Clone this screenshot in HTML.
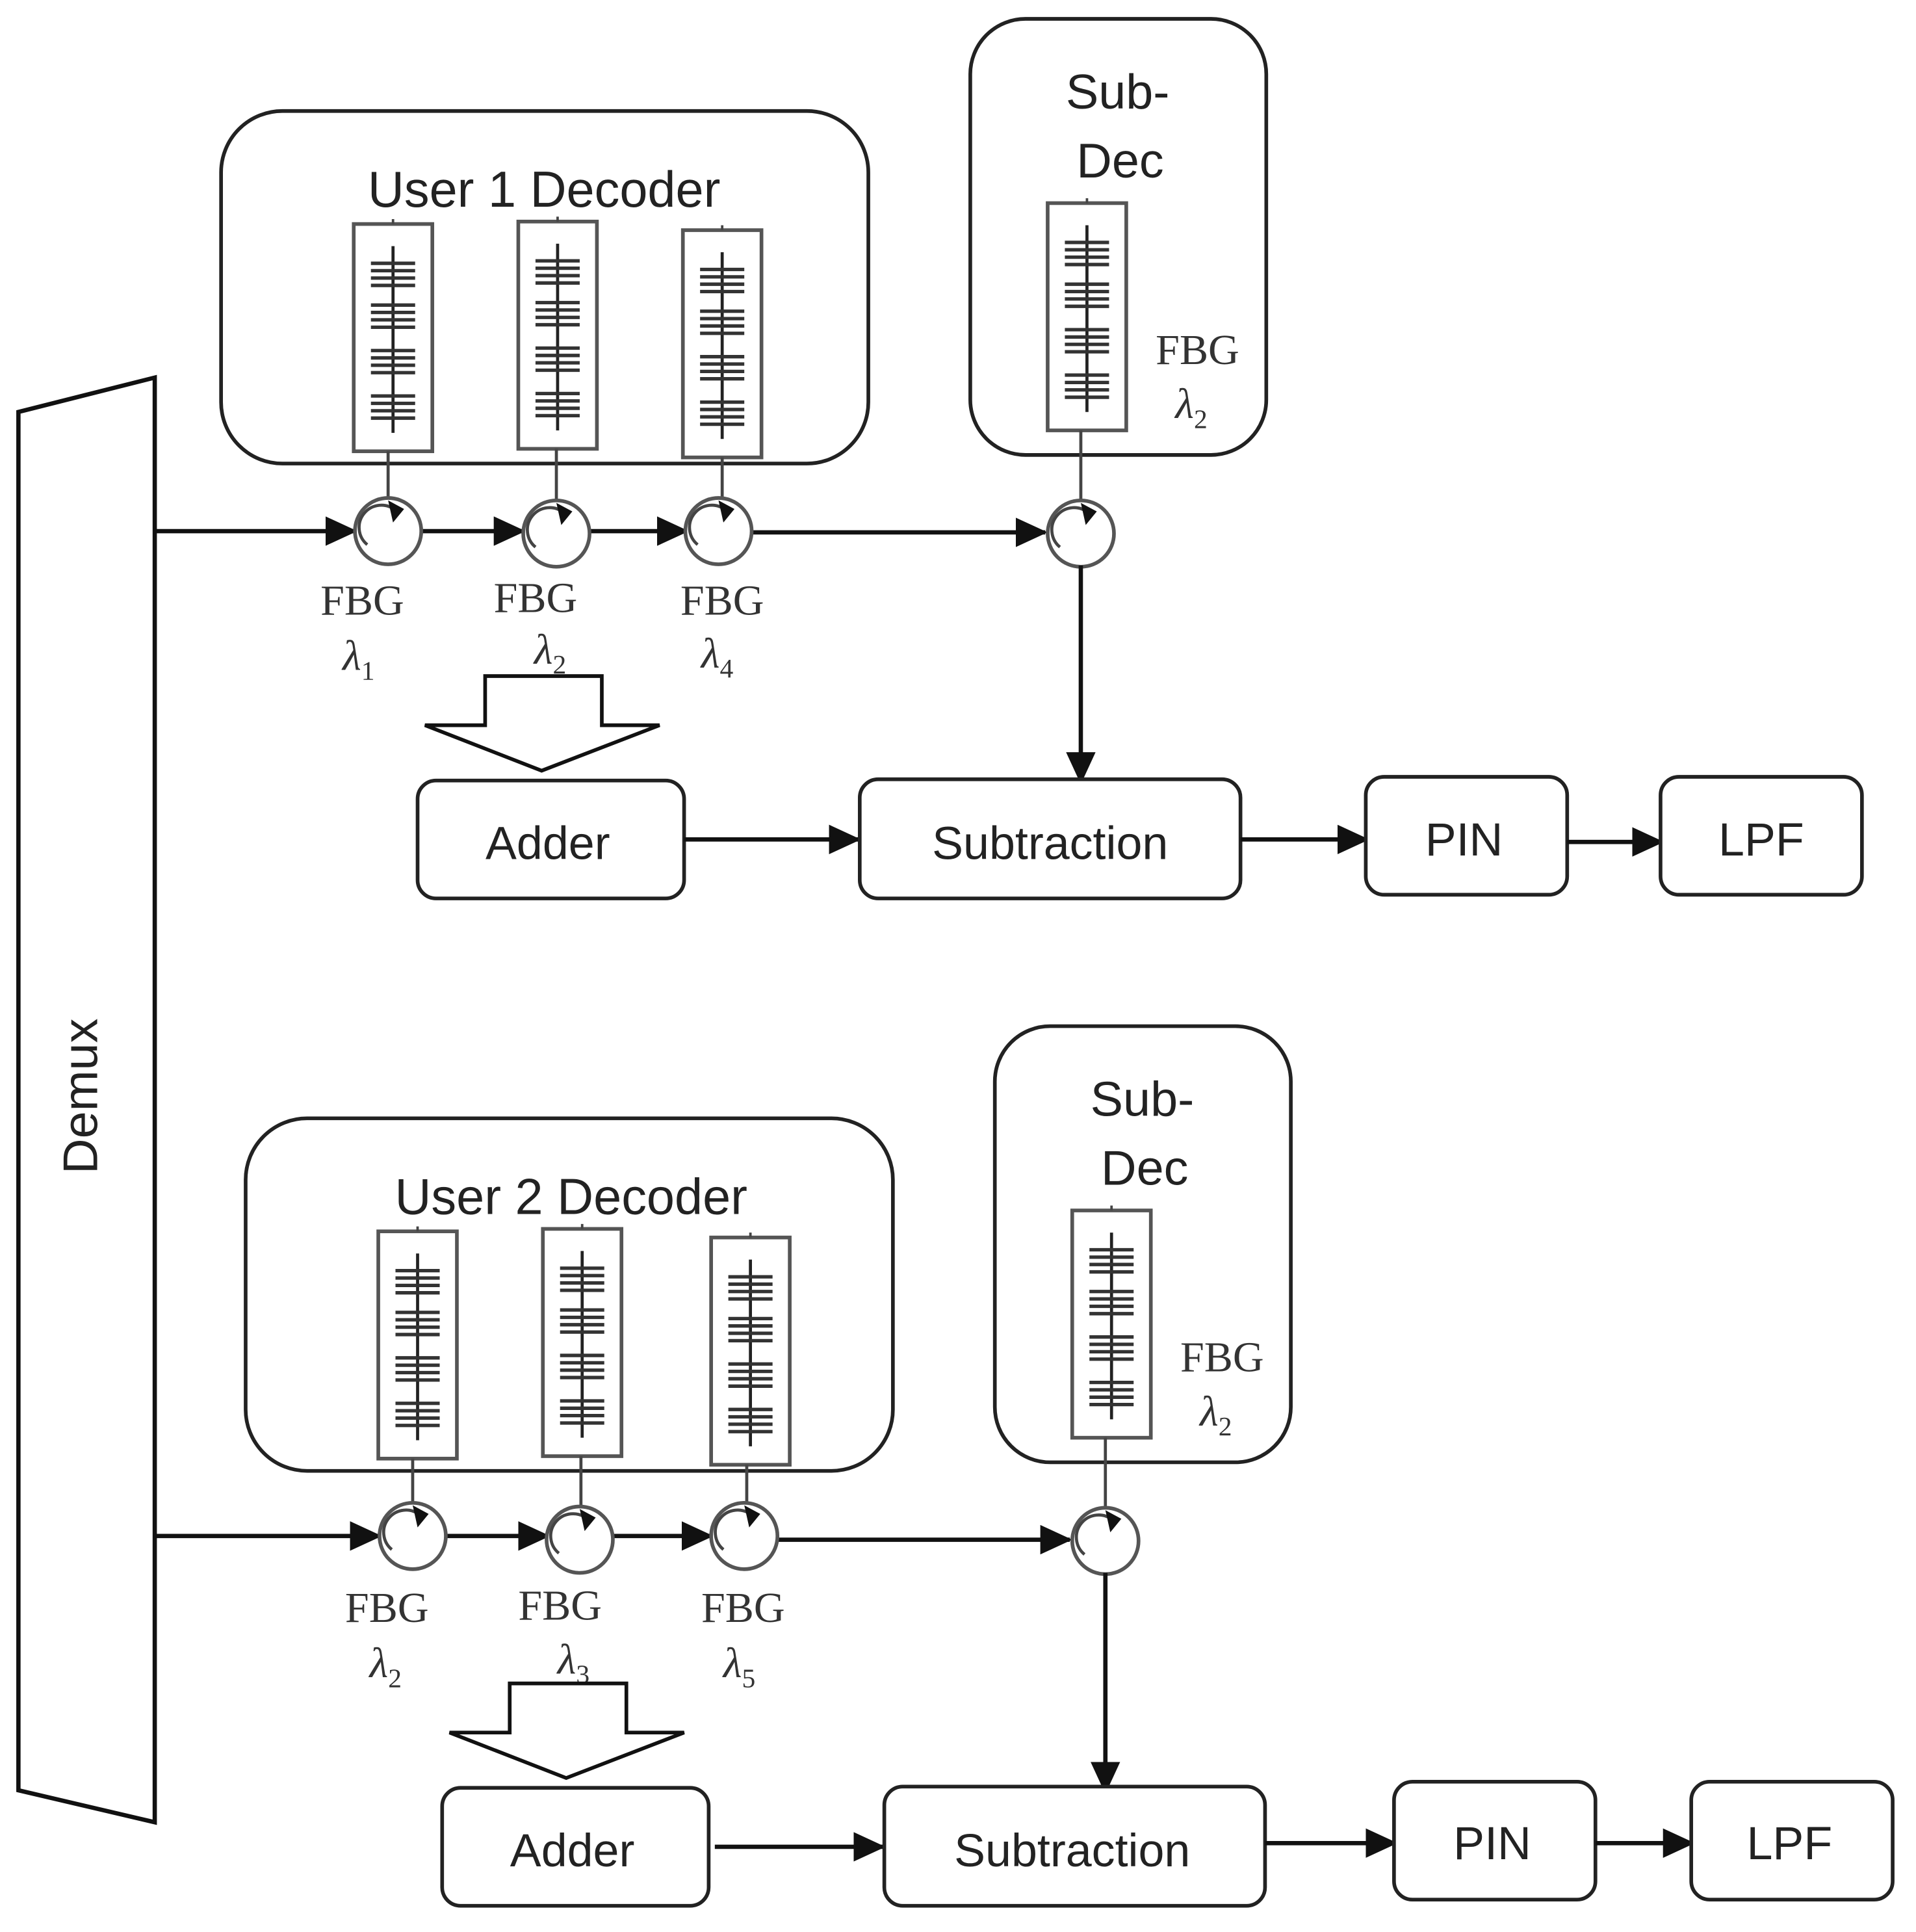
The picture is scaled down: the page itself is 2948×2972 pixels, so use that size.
<!DOCTYPE html>
<html><head><meta charset="utf-8"><style>
html,body{margin:0;padding:0;background:#fff;}
svg{display:block;}
.s{font-family:"Liberation Sans",sans-serif;fill:#222;}
.r{font-family:"Liberation Serif",serif;fill:#333;}
.l{font-style:italic;}
</style></head><body>
<svg width="2948" height="2972" viewBox="0 0 1560 1572" xmlns="http://www.w3.org/2000/svg">
<defs>
<marker id="ab" markerWidth="26" markerHeight="24" refX="24" refY="12" orient="auto" markerUnits="userSpaceOnUse" viewBox="0 0 26 24">
<path d="M0,0 L26,12 L0,24 z" fill="#111"/></marker>
<g id="grat">
<rect x="0" y="0" width="64" height="185" fill="#fff" stroke="#555" stroke-width="3"/>
<line x1="32" y1="-4" x2="32" y2="0" stroke="#444" stroke-width="2"/>
<line x1="32" y1="18" x2="32" y2="170" stroke="#222" stroke-width="2.5"/>
<g stroke="#333" stroke-width="2.8">
<line x1="14" y1="32" x2="50" y2="32"/><line x1="14" y1="38" x2="50" y2="38"/><line x1="14" y1="44" x2="50" y2="44"/><line x1="14" y1="50" x2="50" y2="50"/>
<line x1="14" y1="66" x2="50" y2="66"/><line x1="14" y1="72" x2="50" y2="72"/><line x1="14" y1="78" x2="50" y2="78"/><line x1="14" y1="84" x2="50" y2="84"/>
<line x1="14" y1="103" x2="50" y2="103"/><line x1="14" y1="109" x2="50" y2="109"/><line x1="14" y1="115" x2="50" y2="115"/><line x1="14" y1="121" x2="50" y2="121"/>
<line x1="14" y1="140" x2="50" y2="140"/><line x1="14" y1="146" x2="50" y2="146"/><line x1="14" y1="152" x2="50" y2="152"/><line x1="14" y1="158" x2="50" y2="158"/>
</g></g>
<g id="circ">
<circle cx="0" cy="0" r="27" fill="#fff" stroke="#555" stroke-width="3"/>
<path d="M-17,11 A18,18 0 0 1 6,-17" fill="none" stroke="#444" stroke-width="2.5"/>
<path d="M0,-25 L13,-18 L4,-7 z" fill="#111"/>
</g>
</defs>

<polygon points="15,335 126,307 126,1483 15,1457" fill="#fff" stroke="#111" stroke-width="3.5"/>
<text class="s" x="0" y="0" font-size="40" text-anchor="middle" transform="translate(79,892) rotate(-90)">Demux</text>

<g>
<rect x="180" y="90" width="527" height="287" rx="50" fill="#fff" stroke="#222" stroke-width="3"/>
<text class="s" x="443" y="168" font-size="41" text-anchor="middle">User 1 Decoder</text>
<use href="#grat" x="288" y="182"/>
<use href="#grat" x="422" y="180"/>
<use href="#grat" x="556" y="187"/>
<line x1="316" y1="367" x2="316" y2="406" stroke="#444" stroke-width="2.5"/>
<line x1="453" y1="365" x2="453" y2="408" stroke="#444" stroke-width="2.5"/>
<line x1="588" y1="372" x2="588" y2="406" stroke="#444" stroke-width="2.5"/>
<g stroke="#111" stroke-width="3.5">
<line x1="126" y1="432" x2="289" y2="432" marker-end="url(#ab)"/>
<line x1="343" y1="432" x2="426" y2="432" marker-end="url(#ab)"/>
<line x1="480" y1="432" x2="559" y2="432" marker-end="url(#ab)"/>
<line x1="612" y1="433" x2="851" y2="433" marker-end="url(#ab)"/>
</g>
<use href="#circ" x="316" y="432"/>
<use href="#circ" x="453" y="434"/>
<use href="#circ" x="585" y="432"/>
<rect x="790" y="15" width="241" height="355" rx="45" fill="#fff" stroke="#222" stroke-width="3"/>
<text class="s" x="910" y="88" font-size="40" text-anchor="middle">Sub-</text>
<text class="s" x="912" y="144" font-size="40" text-anchor="middle">Dec</text>
<use href="#grat" x="853" y="165"/>
<line x1="880" y1="350" x2="880" y2="408" stroke="#444" stroke-width="2.5"/>
<use href="#circ" x="880" y="434"/>
<text class="r" x="975" y="296" font-size="35" text-anchor="middle">FBG</text>
<text class="r" x="970" y="340" font-size="35" text-anchor="middle"><tspan class="l">λ</tspan><tspan font-size="22" dy="8">2</tspan></text>
<line x1="880" y1="460" x2="880" y2="636" stroke="#111" stroke-width="3.5" marker-end="url(#ab)"/>
<text class="r" x="295" y="500" font-size="35" text-anchor="middle">FBG</text>
<text class="r" x="436" y="498" font-size="35" text-anchor="middle">FBG</text>
<text class="r" x="588" y="500" font-size="35" text-anchor="middle">FBG</text>
<text class="r" x="292" y="545" font-size="35" text-anchor="middle"><tspan class="l">λ</tspan><tspan font-size="22" dy="8">1</tspan></text>
<text class="r" x="448" y="540" font-size="35" text-anchor="middle"><tspan class="l">λ</tspan><tspan font-size="22" dy="8">2</tspan></text>
<text class="r" x="584" y="543" font-size="35" text-anchor="middle"><tspan class="l">λ</tspan><tspan font-size="22" dy="8">4</tspan></text>
<polygon points="395,550 490,550 490,590 537,590 441,627 346,590 395,590" fill="#fff" stroke="#111" stroke-width="3"/>
<rect x="340" y="635" width="217" height="96" rx="15" fill="#fff" stroke="#222" stroke-width="3"/>
<text class="s" x="446" y="699" font-size="38" text-anchor="middle">Adder</text>
<line x1="557" y1="683" x2="699" y2="683" stroke="#111" stroke-width="3.5" marker-end="url(#ab)"/>
<rect x="700" y="634" width="310" height="97" rx="15" fill="#fff" stroke="#222" stroke-width="3"/>
<text class="s" x="855" y="699" font-size="38" text-anchor="middle">Subtraction</text>
<line x1="1010" y1="683" x2="1113" y2="683" stroke="#111" stroke-width="3.5" marker-end="url(#ab)"/>
<rect x="1112" y="632" width="164" height="96" rx="15" fill="#fff" stroke="#222" stroke-width="3"/>
<text class="s" x="1192" y="696" font-size="38" text-anchor="middle">PIN</text>
<line x1="1276" y1="685" x2="1353" y2="685" stroke="#111" stroke-width="3.5" marker-end="url(#ab)"/>
<rect x="1352" y="632" width="164" height="96" rx="15" fill="#fff" stroke="#222" stroke-width="3"/>
<text class="s" x="1434" y="696" font-size="38" text-anchor="middle">LPF</text>
</g>

<g transform="translate(20,820)">
<rect x="180" y="90" width="527" height="287" rx="50" fill="#fff" stroke="#222" stroke-width="3"/>
<text class="s" x="445" y="168" font-size="41" text-anchor="middle">User 2 Decoder</text>
<use href="#grat" x="288" y="182"/>
<use href="#grat" x="422" y="180"/>
<use href="#grat" x="559" y="187"/>
<line x1="316" y1="367" x2="316" y2="406" stroke="#444" stroke-width="2.5"/>
<line x1="453" y1="365" x2="453" y2="408" stroke="#444" stroke-width="2.5"/>
<line x1="588" y1="372" x2="588" y2="406" stroke="#444" stroke-width="2.5"/>
<g stroke="#111" stroke-width="3.5">
<line x1="106" y1="430" x2="289" y2="430" marker-end="url(#ab)"/>
<line x1="343" y1="430" x2="426" y2="430" marker-end="url(#ab)"/>
<line x1="480" y1="430" x2="559" y2="430" marker-end="url(#ab)"/>
<line x1="612" y1="433" x2="851" y2="433" marker-end="url(#ab)"/>
</g>
<use href="#circ" x="316" y="430"/>
<use href="#circ" x="452" y="433"/>
<use href="#circ" x="586" y="430"/>
<rect x="790" y="15" width="241" height="355" rx="45" fill="#fff" stroke="#222" stroke-width="3"/>
<text class="s" x="910" y="88" font-size="40" text-anchor="middle">Sub-</text>
<text class="s" x="912" y="144" font-size="40" text-anchor="middle">Dec</text>
<use href="#grat" x="853" y="165"/>
<line x1="880" y1="350" x2="880" y2="408" stroke="#444" stroke-width="2.5"/>
<use href="#circ" x="880" y="434"/>
<text class="r" x="975" y="296" font-size="35" text-anchor="middle">FBG</text>
<text class="r" x="970" y="340" font-size="35" text-anchor="middle"><tspan class="l">λ</tspan><tspan font-size="22" dy="8">2</tspan></text>
<line x1="880" y1="460" x2="880" y2="638" stroke="#111" stroke-width="3.5" marker-end="url(#ab)"/>
<text class="r" x="295" y="500" font-size="35" text-anchor="middle">FBG</text>
<text class="r" x="436" y="498" font-size="35" text-anchor="middle">FBG</text>
<text class="r" x="585" y="500" font-size="35" text-anchor="middle">FBG</text>
<text class="r" x="294" y="545" font-size="35" text-anchor="middle"><tspan class="l">λ</tspan><tspan font-size="22" dy="8">2</tspan></text>
<text class="r" x="447" y="542" font-size="35" text-anchor="middle"><tspan class="l">λ</tspan><tspan font-size="22" dy="8">3</tspan></text>
<text class="r" x="582" y="545" font-size="35" text-anchor="middle"><tspan class="l">λ</tspan><tspan font-size="22" dy="8">5</tspan></text>
<polygon points="395,550 490,550 490,590 537,590 441,627 346,590 395,590" fill="#fff" stroke="#111" stroke-width="3"/>
<rect x="340" y="635" width="217" height="96" rx="15" fill="#fff" stroke="#222" stroke-width="3"/>
<text class="s" x="446" y="699" font-size="38" text-anchor="middle">Adder</text>
<line x1="562" y1="683" x2="699" y2="683" stroke="#111" stroke-width="3.5" marker-end="url(#ab)"/>
<rect x="700" y="634" width="310" height="97" rx="15" fill="#fff" stroke="#222" stroke-width="3"/>
<text class="s" x="853" y="699" font-size="38" text-anchor="middle">Subtraction</text>
<line x1="1010" y1="680" x2="1116" y2="680" stroke="#111" stroke-width="3.5" marker-end="url(#ab)"/>
<rect x="1115" y="630" width="164" height="96" rx="15" fill="#fff" stroke="#222" stroke-width="3"/>
<text class="s" x="1195" y="693" font-size="38" text-anchor="middle">PIN</text>
<line x1="1279" y1="680" x2="1358" y2="680" stroke="#111" stroke-width="3.5" marker-end="url(#ab)"/>
<rect x="1357" y="630" width="164" height="96" rx="15" fill="#fff" stroke="#222" stroke-width="3"/>
<text class="s" x="1437" y="693" font-size="38" text-anchor="middle">LPF</text>
</g>
</svg>
</body></html>
